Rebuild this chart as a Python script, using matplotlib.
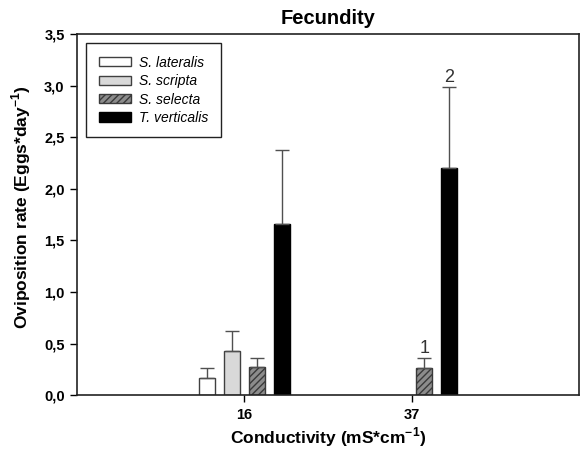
"""Fecundity bar chart."""
import numpy as np
from matplotlib import pyplot as plt

plt.rcParams['font.family'] = ['Liberation Sans', 'DejaVu Sans']
plt.rcParams['hatch.linewidth'] = 1.0
plt.rcParams['mathtext.fontset'] = 'custom'
plt.rcParams['mathtext.bf'] = 'Liberation Sans:bold'
plt.rcParams['mathtext.rm'] = 'Liberation Sans'

conductivity = ['16', '37']
species = ['S. lateralis', 'S. scripta', 'S. selecta', 'T. verticalis']
# mean oviposition rate per species at each conductivity (nan = no bar)
means = {
    'S. lateralis': [0.17, np.nan],
    'S. scripta': [0.43, np.nan],
    'S. selecta': [0.27, 0.26],
    'T. verticalis': [1.66, 2.20],
}
errors = {
    'S. lateralis': [0.09, np.nan],
    'S. scripta': [0.19, np.nan],
    'S. selecta': [0.09, 0.10],
    'T. verticalis': [0.72, 0.79],
}
# letters above the bars at 37
labels = {'S. selecta': [None, '1'], 'T. verticalis': [None, '2']}

styles = {
    'S. lateralis': dict(facecolor='white', edgecolor='#404040'),
    'S. scripta': dict(facecolor='#d9d9d9', edgecolor='#404040'),
    'S. selecta': dict(facecolor='#8c8c8c', edgecolor='#3a3a3a', hatch='/////'),
    'T. verticalis': dict(facecolor='black', edgecolor='black'),
}

fig = plt.figure(figsize=(5.8, 4.49), dpi=100)
ax = fig.add_axes([0.133, 0.120, 0.865, 0.804])

x = np.arange(1, len(conductivity) + 1)
width = 0.095
step = 0.15
for i, sp in enumerate(species):
    pos = x + (i - 1.5) * step
    vals = np.array(means[sp])
    errs = np.array(errors[sp])
    ax.bar(pos, vals, width, linewidth=1.0, label=sp, **styles[sp])
    ax.errorbar(pos, vals, yerr=[np.zeros_like(errs), errs], fmt='none',
                ecolor='#505050', elinewidth=1.0, capsize=5, capthick=1.0)
    for p, v, e, t in zip(pos, vals, errs, labels.get(sp, [None] * len(x))):
        if t:
            ax.text(p, v + e + 0.01, t, ha='center', va='bottom', fontsize=13,
                    color='#333333')

ax.set_xlim(0, 3)
ax.set_ylim(0, 3.5)
ax.set_xticks(x)
ax.set_xticklabels(conductivity, fontweight='bold', fontsize=10.5)
yt = np.arange(0, 3.51, 0.5)
ax.set_yticks(yt)
ax.set_yticklabels([f'{v:.1f}'.replace('.', ',') for v in yt],
                   fontweight='bold', fontsize=10.5)
ax.tick_params(direction='out', length=5, width=1, pad=4)
for s in ax.spines.values():
    s.set_linewidth(1.2)
    s.set_color('#222222')

ax.set_title('Fecundity', fontweight='bold', fontsize=14.5, pad=7)
ax.set_xlabel(r'Conductivity (mS*cm$^{\mathbf{-1}}$)', fontweight='bold',
              fontsize=12.5)
ax.xaxis.set_label_coords(0.5, -0.085)
ax.set_ylabel(r'Oviposition rate (Eggs*day$^{\mathbf{-1}}$)', fontweight='bold',
              fontsize=12.5)
ax.yaxis.set_label_coords(-0.087, 0.52)

leg = ax.legend(loc='upper left', bbox_to_anchor=(0.018, 0.975), borderaxespad=0,
                fancybox=False, edgecolor='#222222', framealpha=1,
                handlelength=2.3, handleheight=0.65, handletextpad=0.6,
                borderpad=0.9, labelspacing=0.32,
                prop={'style': 'italic', 'size': 10})
leg.get_frame().set_linewidth(1.0)

plt.savefig('out.png', dpi=100)
